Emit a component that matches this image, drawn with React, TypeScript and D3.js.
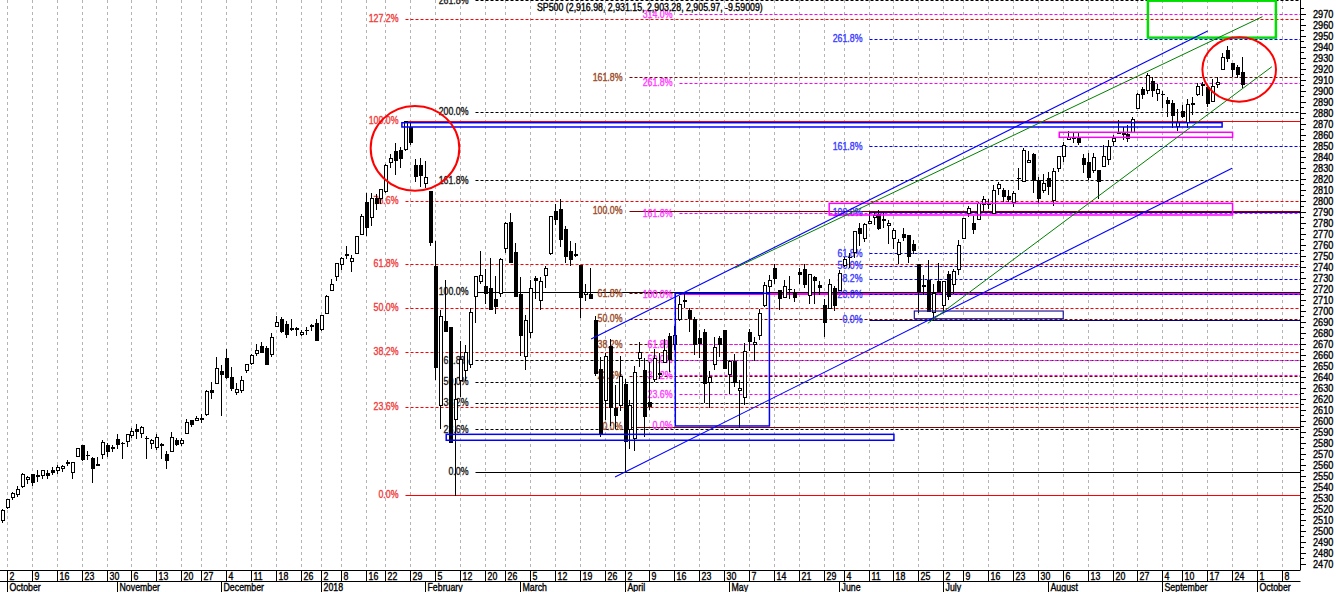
import * as d3 from 'd3';

// SP500 daily candles: date, open, high, low, close
const candles: [string, number, number, number, number][] = [
  ['2017-09-29', 2509.96, 2519.44, 2507.99, 2519.36],
  // October
  ['2017-10-02', 2521.20, 2529.23, 2520.40, 2529.12],
  ['2017-10-03', 2530.34, 2535.13, 2528.85, 2534.58],
  ['2017-10-04', 2533.48, 2540.53, 2531.80, 2537.74],
  ['2017-10-05', 2540.86, 2552.51, 2540.02, 2552.07],
  ['2017-10-06', 2547.44, 2549.41, 2543.79, 2549.33],
  ['2017-10-09', 2551.39, 2551.82, 2541.60, 2544.73],
  ['2017-10-10', 2549.99, 2555.23, 2544.86, 2550.64],
  ['2017-10-11', 2550.62, 2555.24, 2547.95, 2555.24],
  ['2017-10-12', 2552.88, 2555.33, 2548.31, 2550.93],
  ['2017-10-13', 2555.66, 2557.65, 2552.09, 2553.17],
  ['2017-10-16', 2555.57, 2559.47, 2552.64, 2557.64],
  ['2017-10-17', 2557.17, 2559.71, 2554.69, 2559.36],
  ['2017-10-18', 2562.87, 2564.11, 2559.67, 2561.26],
  ['2017-10-19', 2553.39, 2562.36, 2547.92, 2562.10],
  ['2017-10-20', 2567.56, 2575.44, 2567.56, 2575.21],
  ['2017-10-23', 2578.08, 2578.29, 2564.33, 2564.98],
  ['2017-10-24', 2568.66, 2572.18, 2565.58, 2569.13],
  ['2017-10-25', 2566.52, 2567.40, 2544.00, 2557.15],
  ['2017-10-26', 2560.08, 2567.07, 2559.80, 2560.40],
  ['2017-10-27', 2570.26, 2582.98, 2565.94, 2581.07],
  ['2017-10-30', 2577.75, 2580.03, 2568.25, 2572.83],
  ['2017-10-31', 2575.99, 2578.29, 2572.15, 2575.26],
  // November
  ['2017-11-01', 2583.21, 2588.40, 2574.92, 2579.36],
  ['2017-11-02', 2579.46, 2581.11, 2566.17, 2579.85],
  ['2017-11-03', 2581.93, 2588.42, 2576.77, 2587.84],
  ['2017-11-06', 2587.47, 2593.38, 2585.66, 2591.13],
  ['2017-11-07', 2592.11, 2597.02, 2584.35, 2590.64],
  ['2017-11-08', 2588.71, 2595.47, 2585.02, 2594.38],
  ['2017-11-09', 2584.00, 2586.50, 2566.33, 2584.62],
  ['2017-11-10', 2580.18, 2583.81, 2575.57, 2582.30],
  ['2017-11-13', 2576.53, 2587.66, 2574.48, 2584.84],
  ['2017-11-14', 2577.75, 2579.66, 2566.56, 2578.87],
  ['2017-11-15', 2569.45, 2572.84, 2557.45, 2564.62],
  ['2017-11-16', 2572.95, 2590.09, 2572.95, 2585.64],
  ['2017-11-17', 2582.94, 2583.96, 2577.62, 2578.85],
  ['2017-11-20', 2579.49, 2584.64, 2578.24, 2582.14],
  ['2017-11-21', 2589.17, 2601.19, 2589.17, 2599.03],
  ['2017-11-22', 2600.31, 2600.94, 2595.23, 2597.08],
  ['2017-11-24', 2600.42, 2604.21, 2600.42, 2602.42],
  ['2017-11-27', 2602.66, 2606.41, 2598.87, 2601.42],
  ['2017-11-28', 2605.94, 2627.69, 2605.44, 2627.04],
  ['2017-11-29', 2627.82, 2634.89, 2620.32, 2626.07],
  ['2017-11-30', 2633.93, 2657.74, 2633.93, 2647.58],
  // December
  ['2017-12-01', 2645.10, 2650.62, 2605.52, 2642.22],
  ['2017-12-04', 2657.19, 2665.19, 2639.03, 2639.44],
  ['2017-12-05', 2639.78, 2648.72, 2627.73, 2629.57],
  ['2017-12-06', 2626.24, 2634.41, 2624.75, 2629.27],
  ['2017-12-07', 2628.38, 2640.99, 2626.53, 2636.98],
  ['2017-12-08', 2646.21, 2651.65, 2644.10, 2651.50],
  ['2017-12-11', 2652.19, 2660.33, 2651.47, 2659.99],
  ['2017-12-12', 2661.73, 2669.72, 2659.78, 2664.11],
  ['2017-12-13', 2667.59, 2671.88, 2662.85, 2662.85],
  ['2017-12-14', 2665.87, 2668.09, 2652.01, 2652.01],
  ['2017-12-15', 2660.63, 2679.63, 2659.14, 2675.81],
  ['2017-12-18', 2685.92, 2694.97, 2685.92, 2690.16],
  ['2017-12-19', 2692.71, 2694.44, 2680.74, 2681.47],
  ['2017-12-20', 2688.18, 2691.01, 2676.11, 2679.25],
  ['2017-12-21', 2683.02, 2692.64, 2682.40, 2684.57],
  ['2017-12-22', 2684.22, 2685.35, 2678.13, 2683.34],
  ['2017-12-26', 2679.09, 2682.74, 2677.96, 2680.50],
  ['2017-12-27', 2682.10, 2685.64, 2678.91, 2682.62],
  ['2017-12-28', 2686.10, 2687.66, 2682.69, 2687.54],
  ['2017-12-29', 2689.15, 2692.12, 2673.61, 2673.61],
  // January
  ['2018-01-02', 2683.73, 2695.89, 2682.36, 2695.81],
  ['2018-01-03', 2697.85, 2714.37, 2697.77, 2713.06],
  ['2018-01-04', 2719.31, 2729.29, 2719.07, 2723.99],
  ['2018-01-05', 2731.33, 2743.45, 2727.92, 2743.15],
  ['2018-01-08', 2742.67, 2748.51, 2737.60, 2747.71],
  ['2018-01-09', 2751.15, 2759.14, 2747.86, 2751.29],
  ['2018-01-10', 2745.55, 2750.80, 2736.06, 2748.23],
  ['2018-01-11', 2752.97, 2767.56, 2752.78, 2767.56],
  ['2018-01-12', 2770.18, 2787.85, 2769.64, 2786.24],
  ['2018-01-16', 2798.96, 2807.54, 2768.64, 2776.42],
  ['2018-01-17', 2784.99, 2807.04, 2778.38, 2802.56],
  ['2018-01-18', 2802.40, 2805.83, 2792.56, 2798.03],
  ['2018-01-19', 2802.60, 2810.33, 2798.08, 2810.30],
  ['2018-01-22', 2809.16, 2833.03, 2808.12, 2832.97],
  ['2018-01-23', 2835.05, 2842.24, 2830.59, 2839.13],
  ['2018-01-24', 2845.42, 2852.97, 2824.81, 2837.54],
  ['2018-01-25', 2846.24, 2848.56, 2830.94, 2839.25],
  ['2018-01-26', 2847.48, 2872.87, 2846.18, 2872.87],
  ['2018-01-29', 2867.23, 2870.62, 2851.48, 2853.53],
  ['2018-01-30', 2832.74, 2837.75, 2818.27, 2822.43],
  ['2018-01-31', 2832.41, 2839.26, 2813.04, 2823.81],
  // February
  ['2018-02-01', 2816.45, 2835.96, 2812.70, 2821.98],
  ['2018-02-02', 2808.92, 2808.92, 2759.97, 2762.13],
  ['2018-02-05', 2741.06, 2763.39, 2638.17, 2648.94],
  ['2018-02-06', 2614.78, 2701.04, 2593.07, 2695.14],
  ['2018-02-07', 2690.95, 2727.67, 2681.33, 2681.66],
  ['2018-02-08', 2685.01, 2685.27, 2580.56, 2581.00],
  ['2018-02-09', 2601.78, 2638.67, 2532.69, 2619.55],
  ['2018-02-12', 2636.75, 2672.61, 2622.45, 2656.00],
  ['2018-02-13', 2646.27, 2668.84, 2637.08, 2662.94],
  ['2018-02-14', 2651.21, 2702.10, 2648.87, 2698.63],
  ['2018-02-15', 2713.46, 2731.51, 2689.82, 2731.20],
  ['2018-02-16', 2727.14, 2754.42, 2725.11, 2732.22],
  ['2018-02-20', 2722.99, 2737.60, 2706.76, 2716.26],
  ['2018-02-21', 2720.53, 2747.75, 2701.29, 2701.33],
  ['2018-02-22', 2710.42, 2731.26, 2697.77, 2703.96],
  ['2018-02-23', 2715.80, 2747.76, 2713.74, 2747.30],
  ['2018-02-26', 2757.37, 2780.64, 2753.78, 2779.60],
  ['2018-02-27', 2780.45, 2789.15, 2744.22, 2744.28],
  ['2018-02-28', 2753.78, 2761.52, 2713.54, 2713.83],
  // March
  ['2018-03-01', 2715.22, 2730.89, 2659.65, 2677.67],
  ['2018-03-02', 2658.89, 2696.25, 2647.32, 2691.25],
  ['2018-03-05', 2681.06, 2728.09, 2675.75, 2720.94],
  ['2018-03-06', 2730.18, 2732.08, 2711.26, 2728.12],
  ['2018-03-07', 2710.18, 2730.60, 2701.74, 2726.80],
  ['2018-03-08', 2732.75, 2740.45, 2721.92, 2738.97],
  ['2018-03-09', 2752.91, 2786.57, 2751.54, 2786.57],
  ['2018-03-12', 2790.54, 2796.98, 2779.26, 2783.02],
  ['2018-03-13', 2792.31, 2801.90, 2758.68, 2765.31],
  ['2018-03-14', 2774.06, 2777.11, 2744.38, 2749.48],
  ['2018-03-15', 2754.27, 2763.03, 2741.47, 2747.33],
  ['2018-03-16', 2750.57, 2761.85, 2749.97, 2752.01],
  ['2018-03-19', 2741.38, 2741.38, 2694.59, 2712.92],
  ['2018-03-20', 2715.05, 2724.22, 2710.05, 2716.94],
  ['2018-03-21', 2714.99, 2739.14, 2711.83, 2711.93],
  ['2018-03-22', 2691.36, 2695.68, 2641.59, 2643.69],
  ['2018-03-23', 2646.71, 2657.67, 2585.89, 2588.26],
  ['2018-03-26', 2619.35, 2661.36, 2601.81, 2658.55],
  ['2018-03-27', 2667.57, 2674.78, 2596.12, 2612.62],
  ['2018-03-28', 2611.30, 2632.65, 2593.06, 2605.00],
  ['2018-03-29', 2614.41, 2659.07, 2609.72, 2640.87],
  // April
  ['2018-04-02', 2633.45, 2638.30, 2553.80, 2581.88],
  ['2018-04-03', 2592.17, 2619.14, 2575.49, 2614.45],
  ['2018-04-04', 2584.04, 2649.86, 2573.61, 2644.69],
  ['2018-04-05', 2657.36, 2672.08, 2649.58, 2662.84],
  ['2018-04-06', 2645.82, 2656.88, 2586.27, 2604.47],
  ['2018-04-09', 2617.18, 2653.55, 2610.79, 2613.16],
  ['2018-04-10', 2638.41, 2665.45, 2635.78, 2656.87],
  ['2018-04-11', 2643.89, 2661.43, 2639.25, 2642.19],
  ['2018-04-12', 2653.83, 2674.72, 2653.83, 2663.99],
  ['2018-04-13', 2676.90, 2680.26, 2645.05, 2656.30],
  ['2018-04-16', 2670.10, 2686.49, 2665.16, 2677.84],
  ['2018-04-17', 2692.74, 2713.34, 2692.05, 2706.39],
  ['2018-04-18', 2710.11, 2717.49, 2703.63, 2708.64],
  ['2018-04-19', 2701.16, 2702.84, 2681.90, 2693.13],
  ['2018-04-20', 2692.56, 2693.94, 2660.61, 2670.14],
  ['2018-04-23', 2675.40, 2682.86, 2657.99, 2670.29],
  ['2018-04-24', 2680.80, 2683.55, 2617.32, 2634.56],
  ['2018-04-25', 2634.92, 2645.30, 2612.67, 2639.40],
  ['2018-04-26', 2651.65, 2676.48, 2647.16, 2666.94],
  ['2018-04-27', 2675.47, 2677.35, 2659.01, 2669.91],
  ['2018-04-30', 2682.51, 2682.87, 2648.04, 2648.05],
  // May
  ['2018-05-01', 2642.96, 2655.27, 2625.41, 2654.80],
  ['2018-05-02', 2654.24, 2660.87, 2631.70, 2635.67],
  ['2018-05-03', 2628.08, 2637.14, 2594.62, 2629.73],
  ['2018-05-04', 2621.45, 2670.93, 2615.32, 2663.42],
  ['2018-05-07', 2680.34, 2683.35, 2664.70, 2672.63],
  ['2018-05-08', 2670.26, 2676.34, 2655.20, 2671.92],
  ['2018-05-09', 2678.12, 2701.27, 2674.14, 2697.79],
  ['2018-05-10', 2705.02, 2726.11, 2704.54, 2723.07],
  ['2018-05-11', 2722.70, 2732.86, 2717.45, 2727.72],
  ['2018-05-14', 2738.47, 2742.10, 2725.47, 2730.13],
  ['2018-05-15', 2718.59, 2718.59, 2701.91, 2711.45],
  ['2018-05-16', 2712.62, 2727.76, 2712.17, 2722.46],
  ['2018-05-17', 2719.71, 2731.96, 2711.36, 2720.13],
  ['2018-05-18', 2717.35, 2719.50, 2709.18, 2712.97],
  ['2018-05-21', 2735.39, 2739.19, 2725.70, 2733.01],
  ['2018-05-22', 2738.34, 2742.24, 2721.88, 2724.44],
  ['2018-05-23', 2713.98, 2733.33, 2707.38, 2733.29],
  ['2018-05-24', 2730.94, 2731.97, 2707.38, 2727.76],
  ['2018-05-25', 2723.60, 2727.36, 2714.99, 2721.33],
  ['2018-05-29', 2705.11, 2710.67, 2676.81, 2689.86],
  ['2018-05-30', 2702.43, 2729.34, 2702.43, 2724.01],
  ['2018-05-31', 2720.98, 2722.50, 2700.68, 2705.27],
  // June
  ['2018-06-01', 2718.70, 2736.93, 2718.70, 2734.62],
  ['2018-06-04', 2741.67, 2749.16, 2740.54, 2746.87],
  ['2018-06-05', 2748.46, 2752.61, 2739.51, 2748.80],
  ['2018-06-06', 2753.25, 2772.39, 2748.46, 2772.35],
  ['2018-06-07', 2774.84, 2779.90, 2760.16, 2770.37],
  ['2018-06-08', 2765.84, 2779.39, 2763.59, 2779.03],
  ['2018-06-11', 2780.18, 2790.21, 2780.17, 2782.00],
  ['2018-06-12', 2785.60, 2789.80, 2778.78, 2786.85],
  ['2018-06-13', 2787.94, 2791.47, 2774.65, 2775.63],
  ['2018-06-14', 2783.21, 2789.06, 2776.52, 2782.49],
  ['2018-06-15', 2777.78, 2782.81, 2761.73, 2779.66],
  ['2018-06-18', 2765.79, 2774.99, 2757.12, 2773.75],
  ['2018-06-19', 2752.01, 2765.05, 2743.19, 2762.59],
  ['2018-06-20', 2769.73, 2774.86, 2763.91, 2767.32],
  ['2018-06-21', 2769.28, 2769.28, 2744.39, 2749.76],
  ['2018-06-22', 2760.79, 2764.17, 2752.68, 2754.88],
  ['2018-06-25', 2742.94, 2742.94, 2698.67, 2717.07],
  ['2018-06-26', 2722.12, 2732.91, 2715.60, 2723.06],
  ['2018-06-27', 2728.45, 2746.09, 2699.38, 2699.63],
  ['2018-06-28', 2698.69, 2724.34, 2691.99, 2716.31],
  ['2018-06-29', 2727.13, 2743.26, 2718.03, 2718.37],
  // July
  ['2018-07-02', 2704.95, 2727.26, 2698.95, 2726.71],
  ['2018-07-03', 2733.27, 2736.58, 2711.16, 2713.22],
  ['2018-07-05', 2724.19, 2737.83, 2716.02, 2736.61],
  ['2018-07-06', 2737.68, 2764.41, 2733.52, 2759.82],
  ['2018-07-09', 2765.79, 2784.65, 2765.79, 2784.17],
  ['2018-07-10', 2788.56, 2795.58, 2786.24, 2793.84],
  ['2018-07-11', 2779.82, 2785.91, 2770.77, 2774.02],
  ['2018-07-12', 2783.14, 2799.22, 2783.14, 2798.29],
  ['2018-07-13', 2796.93, 2804.53, 2791.69, 2801.31],
  ['2018-07-16', 2797.36, 2801.19, 2793.39, 2798.43],
  ['2018-07-17', 2789.34, 2814.19, 2789.24, 2809.55],
  ['2018-07-18', 2811.35, 2816.76, 2805.89, 2815.62],
  ['2018-07-19', 2809.37, 2812.05, 2799.77, 2804.49],
  ['2018-07-20', 2804.55, 2809.70, 2800.01, 2801.83],
  ['2018-07-23', 2799.17, 2808.61, 2795.14, 2806.98],
  ['2018-07-24', 2820.68, 2829.99, 2811.12, 2820.40],
  ['2018-07-25', 2817.73, 2848.03, 2817.73, 2846.07],
  ['2018-07-26', 2835.49, 2845.57, 2835.26, 2837.44],
  ['2018-07-27', 2842.35, 2843.17, 2808.34, 2818.82],
  ['2018-07-30', 2819.00, 2821.74, 2798.11, 2802.60],
  ['2018-07-31', 2809.73, 2824.46, 2808.06, 2816.29],
  // August
  ['2018-08-01', 2821.17, 2825.83, 2805.85, 2813.36],
  ['2018-08-02', 2800.48, 2829.91, 2796.34, 2827.22],
  ['2018-08-03', 2829.62, 2840.38, 2827.37, 2840.35],
  ['2018-08-06', 2840.29, 2853.29, 2835.98, 2850.40],
  ['2018-08-07', 2855.92, 2863.43, 2855.92, 2858.45],
  ['2018-08-08', 2856.79, 2862.44, 2853.09, 2857.70],
  ['2018-08-09', 2857.19, 2862.48, 2851.98, 2853.58],
  ['2018-08-10', 2838.90, 2842.20, 2825.81, 2833.28],
  ['2018-08-13', 2835.46, 2843.40, 2819.88, 2821.93],
  ['2018-08-14', 2827.88, 2843.11, 2826.58, 2839.96],
  ['2018-08-15', 2827.95, 2827.95, 2802.49, 2818.37],
  ['2018-08-16', 2831.44, 2850.49, 2831.44, 2840.69],
  ['2018-08-17', 2838.32, 2855.63, 2833.73, 2850.13],
  ['2018-08-20', 2853.93, 2859.76, 2850.62, 2857.05],
  ['2018-08-21', 2861.51, 2873.23, 2861.32, 2862.96],
  ['2018-08-22', 2860.99, 2867.54, 2856.05, 2861.82],
  ['2018-08-23', 2860.29, 2868.78, 2854.03, 2856.98],
  ['2018-08-24', 2862.35, 2876.16, 2862.35, 2874.69],
  ['2018-08-27', 2884.69, 2898.25, 2884.69, 2896.74],
  ['2018-08-28', 2901.45, 2903.77, 2893.50, 2897.52],
  ['2018-08-29', 2900.62, 2916.50, 2898.40, 2914.04],
  ['2018-08-30', 2908.94, 2912.46, 2895.22, 2901.13],
  ['2018-08-31', 2898.37, 2906.32, 2891.73, 2901.52],
  // September
  ['2018-09-04', 2896.96, 2900.18, 2885.13, 2896.72],
  ['2018-09-05', 2891.59, 2894.21, 2876.92, 2888.60],
  ['2018-09-06', 2888.64, 2892.05, 2867.29, 2878.05],
  ['2018-09-07', 2868.26, 2883.81, 2864.12, 2871.68],
  ['2018-09-10', 2881.39, 2886.93, 2875.94, 2877.13],
  ['2018-09-11', 2871.57, 2892.52, 2866.78, 2887.89],
  ['2018-09-12', 2888.29, 2894.65, 2879.20, 2888.92],
  ['2018-09-13', 2896.85, 2906.76, 2896.39, 2904.18],
  ['2018-09-14', 2906.38, 2908.30, 2895.77, 2904.98],
  ['2018-09-17', 2903.83, 2904.65, 2886.16, 2888.80],
  ['2018-09-18', 2890.74, 2911.17, 2890.43, 2904.31],
  ['2018-09-19', 2906.60, 2912.36, 2903.82, 2907.95],
  ['2018-09-20', 2919.73, 2934.80, 2919.73, 2930.75],
  ['2018-09-21', 2936.76, 2940.91, 2927.11, 2929.67],
  ['2018-09-24', 2925.51, 2925.51, 2913.51, 2919.37],
  ['2018-09-25', 2921.83, 2923.79, 2912.63, 2915.56],
  ['2018-09-26', 2916.98, 2931.15, 2903.28, 2905.97],
];

// empty trading days to the right of the last bar
const futureDays = [
  '2018-09-27', '2018-09-28', '2018-10-01', '2018-10-02', '2018-10-03',
  '2018-10-04', '2018-10-05', '2018-10-08', '2018-10-09', '2018-10-10',
];

const lastChange = '-9.59009';

// fibonacci sets: low, high, levels shown, anchor bar where the lines start
const fibLevelsRed = [0, 23.6, 38.2, 50, 61.8, 78.6, 100, 127.2];
const fibLevelsBlack = [0, 23.6, 38.2, 50, 61.8, 100, 161.8, 200, 261.8];
const fibLevelsBrown = [0, 23.6, 38.2, 50, 61.8, 100, 161.8];
const fibLevelsMagenta = [0, 23.6, 38.2, 50, 61.8, 100, 161.8, 261.8, 314];
const fibLevelsBlue = [0, 23.6, 38.2, 50, 61.8, 100, 161.8, 261.8];

interface FibSet {
  low: number;
  high: number;
  levels: number[];
  solid: number[];
  hidden: number[];
  anchor: number;
  line: string;
  solidLine: string;
  text: string;
  solidWidth: number;
}

const fibSets: FibSet[] = [
  { low: 2532.69, high: 2872.87, levels: fibLevelsRed, solid: [0, 100], hidden: [], anchor: 81, line: '#ff0000', solidLine: '#ff0000', text: '#f03c3c', solidWidth: 1 },
  { low: 2553.80, high: 2717.49, levels: fibLevelsBlack, solid: [0, 100], hidden: [], anchor: 95, line: '#000000', solidLine: '#000000', text: '#1a1a1a', solidWidth: 1 },
  { low: 2594.62, high: 2791.0, levels: fibLevelsBrown, solid: [0, 100], hidden: [], anchor: 126, line: '#800000', solidLine: '#800000', text: '#9a4a28', solidWidth: 1 },
  { low: 2596.0, high: 2715.0, levels: fibLevelsMagenta, solid: [100], hidden: [0], anchor: 136, line: '#ff00ff', solidLine: '#ff00ff', text: '#ff3cff', solidWidth: 2 },
  { low: 2692.0, high: 2789.5, levels: fibLevelsBlue, solid: [0, 100], hidden: [], anchor: 174, line: '#0000ff', solidLine: '#000080', text: '#3c3cff', solidWidth: 1 },
];

// annotations in bar index / price: [i0, p0, i1, p1]
const rectsBlue = [
  [80.2, 2871.0, 244.9, 2867.1],
  [89.1, 2587.7, 179.0, 2582.3],
  [135.1, 2715.9, 154.0, 2595.3],
];
const rectsNavy = [[183.1, 2699.8, 213.0, 2692.8]];
const rectsMagenta = [
  [166.0, 2797.7, 247.0, 2787.1],
  [212.2, 2862.3, 247.0, 2857.7],
];
const rectsGreen = [[230.0, 2981.9, 255.7, 2948.3]];

const trendBlue = [
  [118.2, 2674.4, 242.0, 2954.4],
  [123.0, 2548.9, 246.9, 2829.5],
];
const trendGreen = [
  [147.1, 2738.9, 253.0, 2967.4],
  [185.8, 2688.6, 254.9, 2921.9],
];

// [center bar, center price, radius in bars, radius in points]
const ellipses = [
  [82.83, 2847.7, 8.9, 38.5],
  [248.33, 2919.4, 7.39, 29.3],
];

const FONT = '"Liberation Sans", Arial, Helvetica, sans-serif';
const AXIS_X = 1300;
const AXIS_Y = 570;

function Label({ x, y, children, anchor = 'start', fill = '#000', sx = 0.88 }: {
  x: number; y: number; children: React.ReactNode; anchor?: string; fill?: string; sx?: number;
}) {
  return (
    <text
      transform={`translate(${x},${y}) scale(${sx},1)`}
      textAnchor={anchor}
      fill={fill}
      stroke={fill}
      strokeWidth={0.35}
      fontSize={10}
      fontFamily={FONT}
    >
      {children}
    </text>
  );
}

export default function App() {
  const parse = d3.utcParse('%Y-%m-%d');
  const days = [...candles.map(c => c[0]), ...futureDays].map(d => parse(d)!);

  const x = d3.scaleLinear().domain([0, 260]).range([2.5, 2.5 + 4.98 * 260]);
  const y = d3.scaleLinear().domain([2470, 2970]).range([563.8, 13.8]);
  const px = (i: number) => Math.floor(x(i)) + 0.5;
  const py = (v: number) => Math.round(y(v)) + 0.5;

  const weekStarts = days
    .map((d, i) => ({ d, i }))
    .filter(({ d, i }) => i > 0 && (d.getUTCDay() <= days[i - 1].getUTCDay() || +d - +days[i - 1] > 6 * 864e5));
  const monthStarts = days
    .map((d, i) => ({ d, i }))
    .filter(({ d, i }) => i > 0 && d.getUTCMonth() !== days[i - 1].getUTCMonth());

  const priceTicks = d3.range(2470, 2971, 10);
  const minorTicks = d3.range(2475, 2981, 10);

  const last = candles[candles.length - 1];
  const f2 = d3.format(',.2f');
  const title = `SP500 (${f2(last[1])}, ${f2(last[2])}, ${f2(last[3])}, ${f2(last[4])}, ${lastChange})`;

  const rectEl = (r: number[], color: string, w: number, k: string) => (
    <rect
      key={k}
      x={x(r[0])}
      y={y(r[1])}
      width={x(r[2]) - x(r[0])}
      height={y(r[3]) - y(r[1])}
      fill="none"
      stroke={color}
      strokeWidth={w}
    />
  );

  return (
    <svg width={1336} height={592} style={{ position: 'absolute', left: 0, top: 0, background: '#fff' }}>
      {/* weekly grid */}
      <g>
        {weekStarts.map(({ i }) => (
          <line key={i} x1={px(i)} x2={px(i)} y1={0} y2={AXIS_Y} stroke="#b4b4b4" strokeDasharray="3,3" />
        ))}
      </g>

      {/* fibonacci levels */}
      {fibSets.map((s, si) => {
        const x0 = px(s.anchor);
        return (
          <g key={si}>
            {s.levels.map(l => {
              const v = s.low + (s.high - s.low) * l / 100;
              const solid = s.solid.includes(l);
              const yy = solid && s.solidWidth === 2 ? Math.round(y(v)) : py(v);
              return (
                <g key={l}>
                  {!s.hidden.includes(l) && (
                    <line
                      x1={x0}
                      x2={AXIS_X}
                      y1={yy}
                      y2={yy}
                      stroke={solid ? s.solidLine : s.line}
                      strokeWidth={solid ? s.solidWidth : 1}
                      strokeDasharray={solid ? undefined : '3,2'}
                    />
                  )}
                  <Label x={x0 - 7} y={y(v) + 3.5} anchor="end" fill={s.text}>
                    {l.toFixed(1)}%
                  </Label>
                </g>
              );
            })}
          </g>
        );
      })}

      {/* candles */}
      <g>
        {candles.map(([, o, h, l, c], i) => {
          const cx = px(i);
          const top = py(Math.max(o, c));
          const bot = py(Math.min(o, c));
          return (
            <g key={i}>
              <line x1={cx} x2={cx} y1={Math.round(y(h))} y2={Math.round(y(l)) + 1} stroke="#000" />
              {bot - top >= 1 ? (
                <rect x={cx - 1} y={top} width={3} height={bot - top} fill={c >= o ? '#fff' : '#000'} stroke="#000" />
              ) : (
                <line x1={cx - 1.5} x2={cx + 2.5} y1={top} y2={top} stroke="#000" />
              )}
            </g>
          );
        })}
      </g>

      {/* boxes */}
      {rectsBlue.map((r, k) => rectEl(r, '#0000ff', 1.5, 'b' + k))}
      {rectsNavy.map((r, k) => rectEl(r, '#1c1c9c', 1.2, 'n' + k))}
      {rectsMagenta.map((r, k) => rectEl(r, '#ff00ff', 1.5, 'm' + k))}
      {rectsGreen.map((r, k) => rectEl(r, '#00e000', 2.5, 'g' + k))}

      {/* trend channels */}
      {trendBlue.map((t, k) => (
        <line key={'tb' + k} x1={x(t[0])} y1={y(t[1])} x2={x(t[2])} y2={y(t[3])} stroke="#0000ff" strokeWidth={1.1} />
      ))}
      {trendGreen.map((t, k) => (
        <line key={'tg' + k} x1={x(t[0])} y1={y(t[1])} x2={x(t[2])} y2={y(t[3])} stroke="#008000" strokeWidth={1} />
      ))}

      {/* circled areas */}
      {ellipses.map((e, k) => (
        <ellipse
          key={'e' + k}
          cx={x(e[0])}
          cy={y(e[1])}
          rx={x(e[0] + e[2]) - x(e[0])}
          ry={y(e[1] - e[3]) - y(e[1])}
          fill="none"
          stroke="#ff0000"
          strokeWidth={2}
        />
      ))}

      {/* title */}
      <Label x={537} y={10.5} fill="#000">{title}</Label>

      {/* price axis */}
      <line x1={AXIS_X + 0.5} x2={AXIS_X + 0.5} y1={0} y2={AXIS_Y} stroke="#000" />
      {priceTicks.map(v => (
        <g key={v}>
          <line x1={AXIS_X} x2={AXIS_X + 6} y1={py(v)} y2={py(v)} stroke="#000" />
          <Label x={1313} y={y(v) + 4.5} sx={0.92}>{v}</Label>
        </g>
      ))}
      {minorTicks.map(v => (
        <line key={v} x1={AXIS_X} x2={AXIS_X + 4} y1={py(v)} y2={py(v)} stroke="#000" />
      ))}

      {/* date axis */}
      <rect x={0} y={AXIS_Y} width={1336} height={22} fill="#fff" />
      <line x1={0} x2={AXIS_X + 0.5} y1={AXIS_Y + 0.5} y2={AXIS_Y + 0.5} stroke="#000" />
      <line x1={0} x2={AXIS_X + 0.5} y1={AXIS_Y + 11.5} y2={AXIS_Y + 11.5} stroke="#000" />
      {weekStarts.map(({ d, i }) => (
        <g key={i}>
          <line x1={px(i)} x2={px(i)} y1={AXIS_Y} y2={AXIS_Y + 11.5} stroke="#000" />
          <Label x={px(i) + 2} y={AXIS_Y + 9.5}>{d.getUTCDate()}</Label>
        </g>
      ))}
      {monthStarts.map(({ d, i }) => (
        <g key={i}>
          <line x1={px(i)} x2={px(i)} y1={AXIS_Y + 11.5} y2={592} stroke="#000" />
          <Label x={px(i) + 2} y={AXIS_Y + 20.5}>
            {d.getUTCMonth() === 0 ? String(d.getUTCFullYear()) : d3.utcFormat('%B')(d)}
          </Label>
        </g>
      ))}
    </svg>
  );
}
